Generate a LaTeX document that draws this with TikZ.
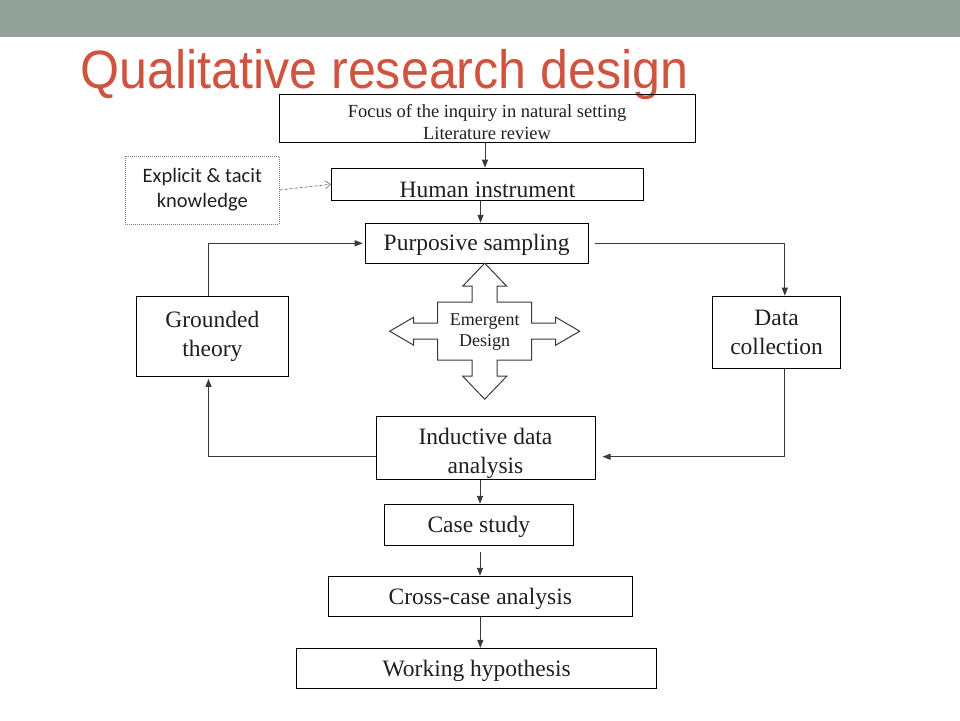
\documentclass[tikz,border=0pt]{standalone}
\usepackage{fontspec}
\setmainfont{Liberation Serif}
\newfontfamily\calfont{Carlito}
\newfontfamily\titlefont[FakeStretch=0.93]{Liberation Sans}
\usetikzlibrary{arrows.meta}
\definecolor{bandgray}{HTML}{93A29A}
\definecolor{titlered}{HTML}{D0533F}
\definecolor{linegray}{HTML}{3A3A3A}
\tikzset{
  box/.style={draw=black, line width=1pt, inner sep=0pt, align=center, text=black!88,
    font=\fontsize{23.5}{29}\selectfont},
  onebox/.style={box, text height=21pt, text depth=5.2pt},
  flow/.style={draw=linegray, line width=1pt, -{Triangle[length=8pt,width=6pt]}},
  hint/.style={draw=gray, densely dashed, line width=.8pt, -{Straight Barb[length=5pt,width=8pt]}},
}
\begin{document}
\begin{tikzpicture}[x=1pt,y=-1pt]
\def\shaft{12.5}
\def\head{22}
\def\bar{8}
\def\barhead{14}
\useasboundingbox (0,0) rectangle (960,720);
\fill[bandgray] (0,0) rectangle (960,37.3);
\node[anchor=base west, inner sep=0pt, text=titlered,
  font=\titlefont\fontsize{54}{60}\selectfont] (title) at (80,88.3) {Qualitative research design};

\node[box, minimum width=416pt, minimum height=48pt, font=\fontsize{18.5}{22}\selectfont]
  (focus) at (487,118.5) {\rule{0pt}{21pt}Focus of the inquiry in natural setting\\Literature review};
\node[box, text height=26pt, text depth=0pt, minimum width=312pt, minimum height=32pt]
  (human) at (487.5,184.2) {Human instrument};
\node[box, draw=gray, densely dotted, line width=.8pt, minimum width=154pt, minimum height=68pt,
  font=\calfont\fontsize{20.5}{25}\selectfont] (explicit) at (202.3,190) {Explicit \& tacit\\knowledge};
\node[box, text height=19pt, text depth=5.2pt, minimum width=223pt, minimum height=40pt]
  (purp) at (476.7,243.3) {Purposive sampling};
\node[box, minimum width=152pt, minimum height=80pt] (grounded) at (212.4,336.3) {Grounded\\ theory};
\node[box, minimum width=128pt, minimum height=72pt] (data) at (776.6,332.2) {Data\\collection};
\node[box, minimum width=219pt, minimum height=63pt] (ind) at (485.5,448.3)
  {\rule{0pt}{26pt}Inductive data\\analysis};
\node[onebox, minimum width=189pt, minimum height=41pt] (case) at (478.8,524.8) {Case study};
\node[onebox, minimum width=304pt, minimum height=40pt] (cross) at (480.3,596.3) {Cross-case analysis};
\node[onebox, minimum width=360pt, minimum height=40pt] (work) at (476.7,668.3) {Working hypothesis};

\draw[linegray, fill=white, line width=1pt, shift={(484.7,331.2)}]
  (0,-68) -- (\head,-45) -- (\shaft,-45) -- (\shaft,-29) -- (47,-29) -- (47,-\bar) -- (71,-\bar)
  -- (71,-\barhead) -- (95,0) -- (71,\barhead) -- (71,\bar) -- (47,\bar) -- (47,29) -- (\shaft,29)
  -- (\shaft,45) -- (\head,45) -- (0,68) -- (-\head,45) -- (-\shaft,45) -- (-\shaft,29) -- (-47,29)
  -- (-47,\bar) -- (-71,\bar) -- (-71,\barhead) -- (-95,0) -- (-71,-\barhead) -- (-71,-\bar)
  -- (-47,-\bar) -- (-47,-29) -- (-\shaft,-29) -- (-\shaft,-45) -- (-\head,-45) -- cycle;
\node[align=center, inner sep=0pt, text=black!88, font=\fontsize{18}{21}\selectfont]
  (emerg) at (484.7,332) {Emergent\\Design};

\draw[flow] ([xshift=-2pt]focus.south) -- ([xshift=-2pt]focus.south |- human.north);
\draw[flow] ([xshift=-7pt]human.south) -- ([xshift=-7pt]human.south |- purp.north);
\draw[hint] (explicit.east) -- (human.west);
\draw[flow, shorten >=2pt] ([xshift=-3.9pt]grounded.north) |- (purp.west);
\draw[flow] ([xshift=6pt]purp.east) -| ([xshift=8.2pt]data.north);
\draw[flow, shorten >=7pt] ([xshift=8.2pt]data.south) |- ([yshift=-8.4pt]ind.east);
\draw[flow, shorten >=2pt] ([yshift=-8.4pt]ind.west) -| ([xshift=-3.9pt]grounded.south);
\draw[flow] ([xshift=-5.5pt]ind.south) -- ([xshift=-5.5pt]ind.south |- case.north);
\draw[flow, shorten <=6pt] ([xshift=1.2pt]case.south) -- ([xshift=1.2pt]case.south |- cross.north);
\draw[flow] (cross.south) -- (cross.south |- work.north);
\end{tikzpicture}
\end{document}
